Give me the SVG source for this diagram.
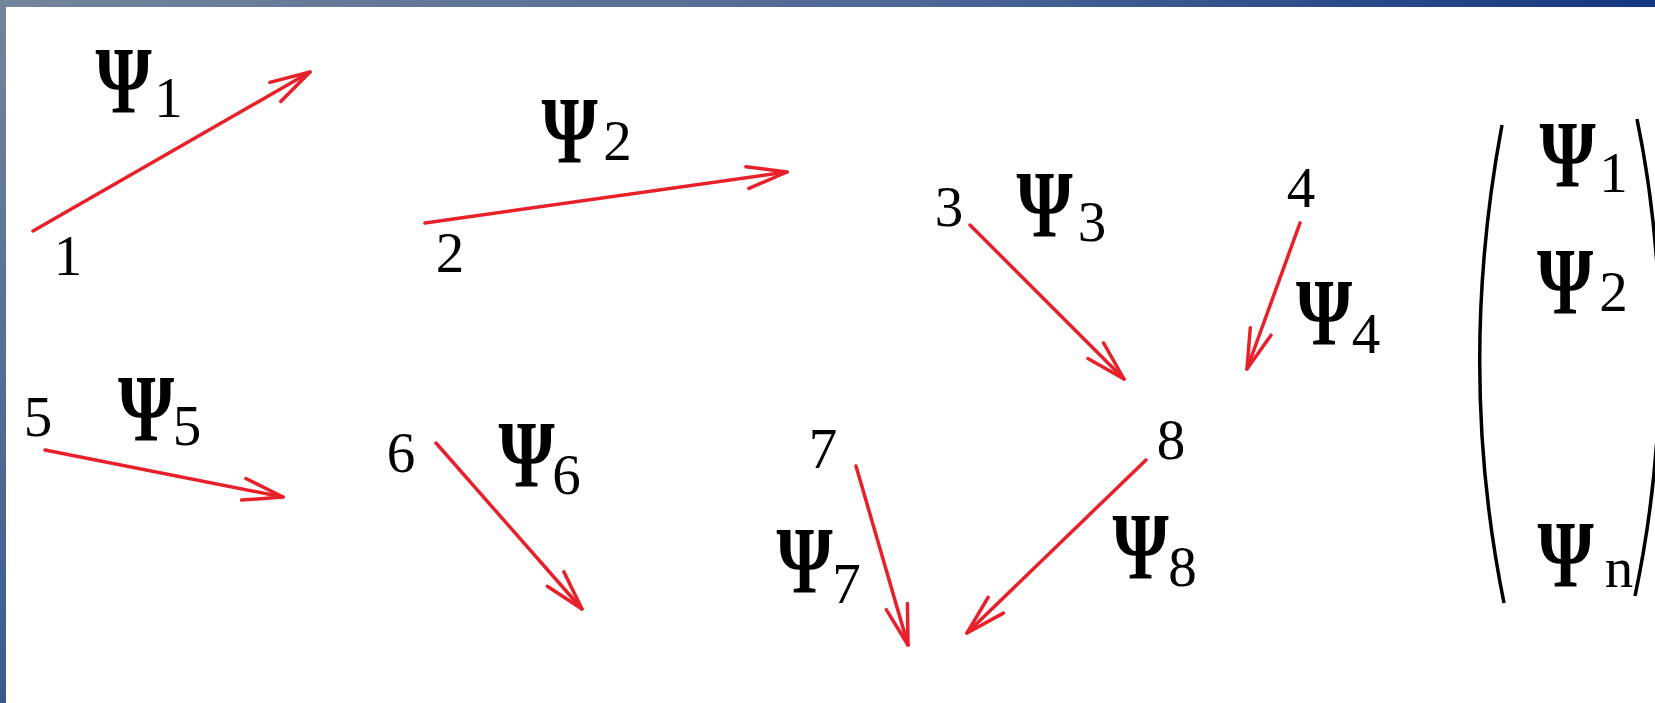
<svg xmlns="http://www.w3.org/2000/svg" width="1655" height="703" viewBox="0 0 1655 703">
<defs>
<style>
.num{font-family:"Liberation Serif","Times New Roman",serif;font-size:57px;fill:#000;text-anchor:middle}
.psi{font-family:"Liberation Serif","Times New Roman",serif;font-weight:bold;font-size:96px;fill:#000;text-anchor:middle}
.arr{stroke:#e8202a;stroke-width:3.5;fill:none;stroke-linecap:round;marker-end:url(#ah)}
.brk{stroke:#000;stroke-width:3.5;fill:none}
</style>
<marker id="ah" markerUnits="userSpaceOnUse" viewBox="-44 -15 48 30" refX="0" refY="0" markerWidth="48" markerHeight="30" orient="auto">
<path d="M-40,-11 L0,0 L-40,11" fill="none" stroke="#e8202a" stroke-width="3.5" stroke-linecap="round" stroke-linejoin="round"/>
</marker>
<linearGradient id="gt" x1="0" y1="0" x2="1" y2="0">
<stop offset="0" stop-color="#74849b"/>
<stop offset="0.55" stop-color="#4d6896"/>
<stop offset="1" stop-color="#123880"/>
</linearGradient>
<linearGradient id="gl" x1="0" y1="0" x2="0" y2="1">
<stop offset="0" stop-color="#74849b"/>
<stop offset="1" stop-color="#3a5a8f"/>
</linearGradient>
</defs>
<rect width="1655" height="703" fill="#fff"/>
<rect x="0" y="0" width="1655" height="7" fill="url(#gt)"/>
<rect x="0" y="0" width="6" height="703" fill="url(#gl)"/>

<g id="connectors">
<line class="arr" x1="33" y1="231" x2="310" y2="72"/>
<line class="arr" x1="425" y1="223" x2="787" y2="172"/>
<line class="arr" x1="970" y1="225" x2="1124" y2="379"/>
<line class="arr" x1="1300" y1="223" x2="1247" y2="369"/>
<line class="arr" x1="45" y1="450" x2="283" y2="497"/>
<line class="arr" x1="436" y1="443" x2="582" y2="609"/>
<line class="arr" x1="856" y1="466" x2="908" y2="645"/>
<line class="arr" x1="1146" y1="460" x2="967" y2="633"/>
</g>

<g id="node1"><text class="num" x="68" y="275">1</text><text class="psi" transform="translate(123.5,113) scale(0.75,1)">Ψ</text><text class="num" x="168.5" y="117">1</text></g>
<g id="node2"><text class="num" x="450" y="272">2</text><text class="psi" transform="translate(569.5,163) scale(0.75,1)">Ψ</text><text class="num" x="617.5" y="160">2</text></g>
<g id="node3"><text class="num" x="949" y="226">3</text><text class="psi" transform="translate(1044.5,237) scale(0.75,1)">Ψ</text><text class="num" x="1092" y="241">3</text></g>
<g id="node4"><text class="num" x="1301" y="207">4</text><text class="psi" transform="translate(1324,345) scale(0.75,1)">Ψ</text><text class="num" x="1366" y="353">4</text></g>
<g id="node5"><text class="num" x="38" y="436">5</text><text class="psi" transform="translate(146,441) scale(0.75,1)">Ψ</text><text class="num" x="187" y="445">5</text></g>
<g id="node6"><text class="num" x="401" y="472">6</text><text class="psi" transform="translate(526.5,487) scale(0.75,1)">Ψ</text><text class="num" x="566.5" y="494">6</text></g>
<g id="node7"><text class="num" x="823" y="468">7</text><text class="psi" transform="translate(804.5,593) scale(0.75,1)">Ψ</text><text class="num" x="846.5" y="603">7</text></g>
<g id="node8"><text class="num" x="1171" y="459">8</text><text class="psi" transform="translate(1140.5,579) scale(0.75,1)">Ψ</text><text class="num" x="1182.5" y="586">8</text></g>

<g id="vector">
<path class="brk" d="M1502,125 C1472,285 1472,445 1504,603"/>
<path class="brk" d="M1637,119 C1668,270 1668,440 1635,596"/>
<text class="psi" transform="translate(1567.5,187) scale(0.75,1)">Ψ</text><text class="num" x="1613.5" y="192">1</text>
<text class="psi" transform="translate(1565,314) scale(0.75,1)">Ψ</text><text class="num" x="1613.5" y="311">2</text>
<text class="psi" transform="translate(1565.5,587) scale(0.75,1)">Ψ</text><text class="num" x="1619" y="587">n</text>
</g>
</svg>
